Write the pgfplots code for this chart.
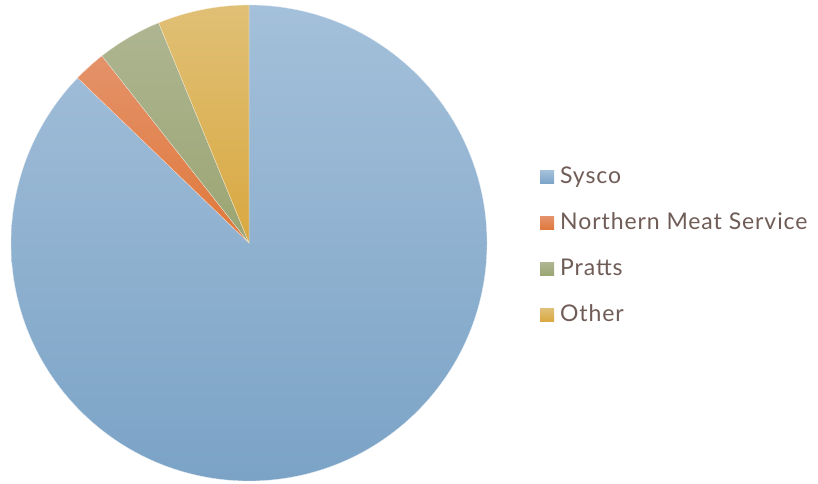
\documentclass[border=0pt]{standalone}
\usepackage{fontspec}
\setmainfont{Lato}[LetterSpace=4]
\usepackage{pgfplots}
\usepackage{pgfplotstable}
\pgfplotsset{compat=1.18}

% share of purchases by supplier (percent)
\pgfplotstableread{
name value
Sysco 87.2
Northern 2.2
Pratts 4.4
Other 6.2
}\piedata

\definecolor{top0}{RGB}{164,192,218}
\definecolor{bot0}{RGB}{123,163,198}
\definecolor{top1}{RGB}{228,146,106}
\definecolor{bot1}{RGB}{224,120,58}
\definecolor{top2}{RGB}{174,181,145}
\definecolor{bot2}{RGB}{154,165,114}
\definecolor{top3}{RGB}{224,192,118}
\definecolor{bot3}{RGB}{217,168,64}
\definecolor{legtext}{RGB}{112,92,86}

\begin{document}
\begin{tikzpicture}
\begin{axis}[
  hide axis, scale only axis,
  width=818bp, height=484bp,
  xmin=0, xmax=818, ymin=0, ymax=484,
  clip=false,
  legend cell align=left,
  legend style={draw=none, fill=none, at={(axis cs:540,317.5)}, anchor=north west,
    font=\fontsize{23bp}{27bp}\selectfont, text=legtext,
    row sep=25bp, column sep=6bp, inner sep=0pt,
    nodes={inner sep=0pt, text height=16.5bp, text depth=4.5bp}},
]
% fixed canvas
\path (axis cs:0,0) rectangle (axis cs:818,484);
\def\startang{90}
\pgfplotsforeachungrouped \i in {0,...,3}{
  \pgfplotstablegetelem{\i}{value}\of\piedata
  \pgfmathsetmacro\endang{\startang - 3.6*\pgfplotsretval}
  \edef\temp{\noexpand\shadedraw[top color=top\i, bottom color=bot\i, draw=white!70!top\i, line width=0.3pt]
    (axis cs:249,241) -- ([shift={(\startang:238bp)}]axis cs:249,241)
    arc[start angle=\startang, end angle=\endang, radius=238bp] -- cycle;}
  \temp
  \global\let\startang\endang
}
\addlegendimage{legend image code/.code={\shade[draw=none,top color=top0,bottom color=bot0] (0bp,-6.5bp) rectangle (14bp,6.5bp);}}
\addlegendentry{Sysco}
\addlegendimage{legend image code/.code={\shade[draw=none,top color=top1,bottom color=bot1] (0bp,-6.5bp) rectangle (14bp,6.5bp);}}
\addlegendentry{Northern Meat Service}
\addlegendimage{legend image code/.code={\shade[draw=none,top color=top2,bottom color=bot2] (0bp,-6.5bp) rectangle (14bp,6.5bp);}}
\addlegendentry{Pratts}
\addlegendimage{legend image code/.code={\shade[draw=none,top color=top3,bottom color=bot3] (0bp,-6.5bp) rectangle (14bp,6.5bp);}}
\addlegendentry{Other}
\end{axis}
\end{tikzpicture}
\end{document}
